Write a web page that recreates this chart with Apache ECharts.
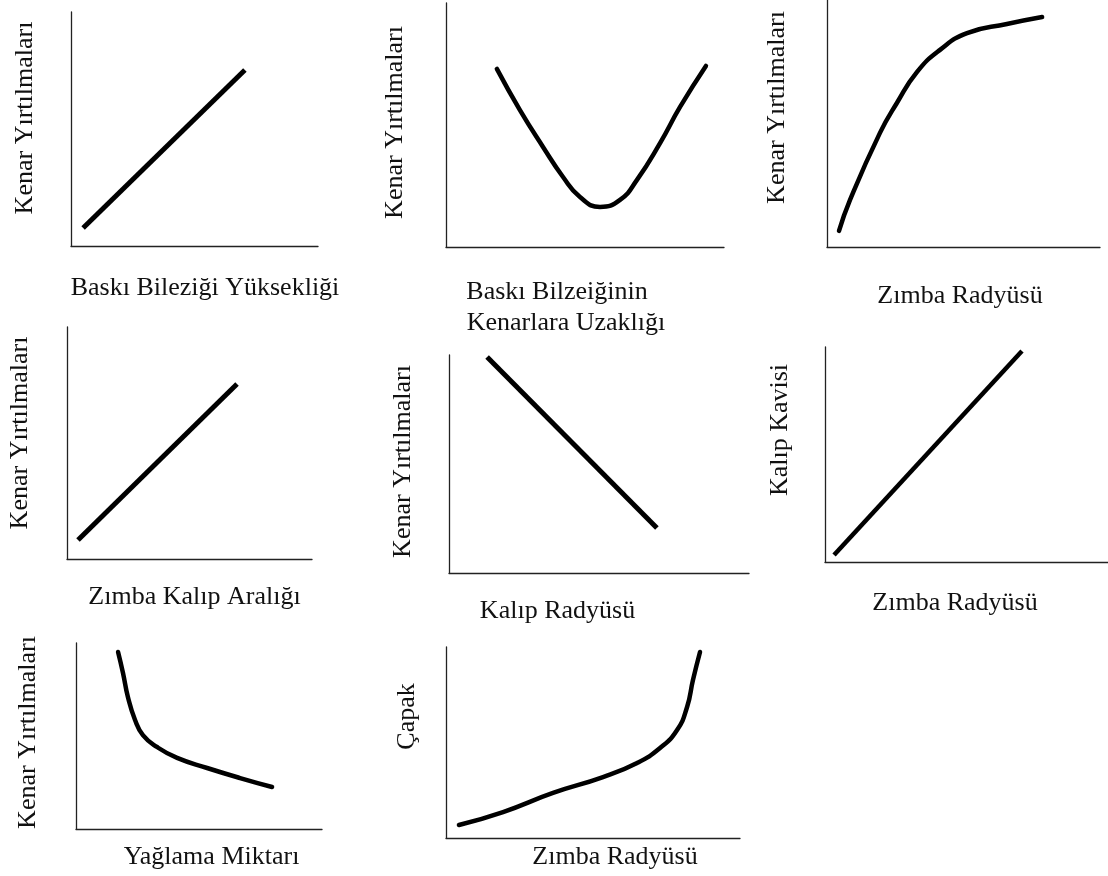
<!DOCTYPE html>
<html><head><meta charset="utf-8">
<script src="https://cdn.jsdelivr.net/npm/echarts@6/dist/echarts.min.js"></script>
<style>html,body{margin:0;padding:0;background:#fff}#c{width:1108px;height:876px}</style>
</head><body><div id="c"></div>
<script>
// ---- Data (relative units 0-100 on each small axis) ----
const xTitles = [
  'Baskı Bileziği Yüksekliği',
  '{a|Baskı Bilzeiğinin}\n{b|Kenarlara Uzaklığı}',
  'Zımba Radyüsü',
  'Zımba Kalıp Aralığı',
  'Kalıp Radyüsü',
  'Zımba Radyüsü',
  'Yağlama Miktarı',
  'Zımba Radyüsü'
];
const yTitles = [
  'Kenar Yırtılmaları',
  'Kenar Yırtılmaları',
  'Kenar Yırtılmaları',
  'Kenar Yırtılmaları',
  'Kenar Yırtılmaları',
  'Kalıp Kavisi',
  'Kenar Yırtılmaları',
  'Çapak'
];
const curve1 = [[4.9, 7.7], [70.4, 75.2]];
const curve2 = [[18.3, 73.0], [26.6, 56.1], [34.9, 41.0], [42.1, 28.7], [48.2, 20.5], [55.4, 16.4],
                [62.6, 19.3], [68.7, 27.5], [77.0, 42.6], [84.2, 57.4], [93.5, 74.2]];
const curve3 = [[4.4, 6.5], [8.4, 19.0], [19.4, 46.2], [25.6, 58.3], [33.0, 70.9], [41.4, 79.8],
                [51.3, 86.6], [65.9, 90.3], [78.8, 93.1]];
const curve4 = [[4.5, 8.2], [69.4, 75.4]];
const curve5 = [[12.7, 99.1], [69.3, 20.6]];
const curve6 = [[3.2, 3.3], [69.6, 98.1]];
const curve7 = [[17.1, 95.2], [19.1, 83.9], [21.1, 71.0], [24.0, 58.6], [27.2, 50.5], [32.9, 44.1],
                [41.1, 38.2], [53.3, 32.8], [66.7, 27.4], [79.7, 22.6]];
const curve8 = [[4.4, 6.8], [19.4, 13.6], [36.4, 23.6], [53.4, 31.9], [65.0, 39.3], [72.8, 47.1],
                [78.6, 56.5], [82.0, 68.6], [84.0, 82.7], [86.4, 97.4]];
const curves = [curve1, curve2, curve3, curve4, curve5, curve6, curve7, curve8];

// ---- Layout (pixels) ----
const panels = [
  {left: 71,  top: 12,  w: 247, h: 234, xc: [205, 288],   yc: [25, 118],   smooth: false, lw: 5},
  {left: 446, top: 3,   w: 278, h: 244, xc: [566, 307.5], yc: [395, 122.5], smooth: true, lw: 4.5, lines: 2},
  {left: 827, top: 0,   w: 273, h: 247, xc: [960, 296],   yc: [777, 107.5], smooth: true, lw: 4.5},
  {left: 67,  top: 327, w: 245, h: 232, xc: [194.5, 597], yc: [20, 433],   smooth: false, lw: 5},
  {left: 449, top: 355, w: 300, h: 218, xc: [557.5, 611], yc: [403, 461.5], smooth: false, lw: 5},
  {left: 825, top: 347, w: 283, h: 215, xc: [955, 603],   yc: [780, 430],  smooth: false, lw: 4.5},
  {left: 76,  top: 643, w: 246, h: 186, xc: [211.5, 857], yc: [28, 732.5], smooth: true, lw: 4.5},
  {left: 446, top: 647, w: 294, h: 191, xc: [615, 857.5], yc: [407, 716.5], smooth: true, lw: 4.5}
];

const FONT = 'Liberation Serif, Times New Roman, serif';
const FS = 26, LH = 30;
const TXT = '#111';

const grid = [], xAxis = [], yAxis = [], series = [];
panels.forEach((p, i) => {
  grid.push({left: p.left, top: p.top, width: p.w, height: p.h,
             containLabel: false, outerBoundsMode: 'none'});
  const nl = p.lines || 1;
  const lh = nl > 1 ? 31 : LH;
  const bottom = p.top + p.h;
  const xGap = p.xc[1] - bottom - lh * nl / 2;
  const xShift = p.xc[0] - (p.left + p.w / 2);
  const xPad = xShift >= 0 ? [0, 0, 0, 2 * xShift] : [0, -2 * xShift, 0, 0];
  const yGap = p.left - p.yc[0] - LH / 2;
  const yShiftUp = (p.top + p.h / 2) - p.yc[1];
  const yPad = yShiftUp >= 0 ? [0, 0, 0, 2 * yShiftUp] : [0, -2 * yShiftUp, 0, 0];
  const axisCommon = {
    type: 'value', gridIndex: i, min: 0, max: 100,
    axisLine: {show: true, onZero: false, lineStyle: {color: '#222', width: 1.3}},
    axisTick: {show: false}, axisLabel: {show: false}, splitLine: {show: false},
    nameLocation: 'middle', nameMoveOverlap: false
  };
  const xStyle = {fontFamily: FONT, fontSize: FS, color: TXT, lineHeight: lh, padding: xPad};
  if (nl > 1) {
    xStyle.rich = {
      a: {fontFamily: FONT, fontSize: FS, color: TXT, lineHeight: lh, padding: [0, 18, 0, 0]},
      b: {fontFamily: FONT, fontSize: FS, color: TXT, lineHeight: lh}
    };
  }
  xAxis.push(Object.assign({}, axisCommon, {
    name: xTitles[i], nameGap: xGap, nameTextStyle: xStyle
  }));
  yAxis.push(Object.assign({}, axisCommon, {
    name: yTitles[i], nameGap: yGap,
    nameTextStyle: {fontFamily: FONT, fontSize: FS, color: TXT, lineHeight: LH, padding: yPad}
  }));
  series.push({
    type: 'line', xAxisIndex: i, yAxisIndex: i, data: curves[i],
    symbol: 'none', showSymbol: false,
    smooth: p.smooth ? 0.5 : false,
    lineStyle: {color: '#000', width: p.lw, cap: p.smooth ? 'round' : 'butt', join: 'round'},
    silent: true
  });
});

const chart = echarts.init(document.getElementById('c'), null, {renderer: 'canvas'});
chart.setOption({
  animation: false,
  backgroundColor: '#fff',
  grid, xAxis, yAxis, series
});
</script>
</body></html>
